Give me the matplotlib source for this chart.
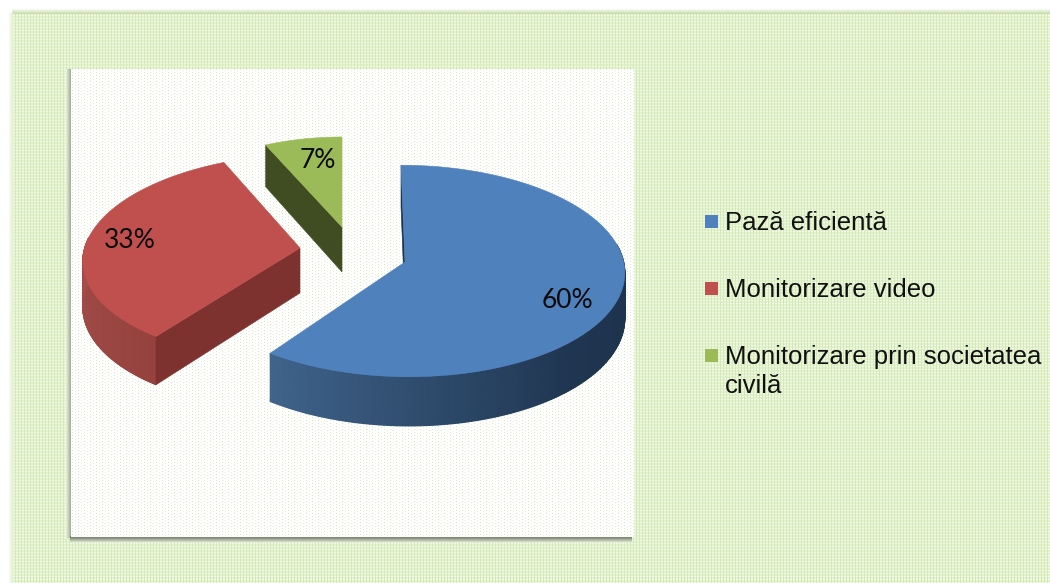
import numpy as np
import matplotlib
matplotlib.use("Agg")
import matplotlib.pyplot as plt
from matplotlib.patches import Polygon, Rectangle
from matplotlib.colors import to_rgb, LinearSegmentedColormap

categories = ["Pază eficientă", "Monitorizare video", "Monitorizare prin societatea\ncivilă"]
values = [60, 33, 7]
top_colors = ["#4F81BD", "#C0504D", "#9BBB59"]
face_colors = ["#1D324C", "#7E3230", "#404D22"]

W, H = 1050, 583
fig = plt.figure(figsize=(W / 100, H / 100), dpi=100, facecolor="white")
ax = fig.add_axes([0, 0, 1, 1])
ax.set_xlim(0, W)
ax.set_ylim(H, 0)
ax.axis("off")

# ---- textured backgrounds ----
def tile(x0, y0, x1, y1, fn, z):
    yy, xx = np.mgrid[y0:y1, x0:x1]
    ax.imshow(fn(xx, yy), extent=(x0, x1, y1, y0), zorder=z, interpolation="nearest", aspect="auto")

g_dark = np.array(to_rgb("#D3EAB6"))
g_mid = np.array(to_rgb("#E2F1CE"))
g_light = np.array(to_rgb("#F4FAEA"))

def outer(xx, yy):
    img = np.ones(xx.shape + (3,)) * g_mid
    img[(xx % 3 == 0)] = g_dark
    img[(yy % 3 == 0) & (xx % 3 != 0)] = g_light
    return img

def inner(xx, yy):
    img = np.ones(xx.shape + (3,))
    img[(xx % 6 == 0) & (yy % 3 == 0)] = np.array(to_rgb("#D6EABF"))
    img[(xx % 6 == 3) & (yy % 3 == 1)] = np.array(to_rgb("#E6F2D8"))
    return img

def gradient(x0, y0, x1, y1, axis, c0, c1, z):
    n = (y1 - y0) if axis == 0 else (x1 - x0)
    t = np.linspace(0, 1, n)
    col = np.outer(1 - t, to_rgb(c0)) + np.outer(t, to_rgb(c1))
    img = col[:, None, :] if axis == 0 else col[None, :, :]
    ax.imshow(img, extent=(x0, x1, y1, y0), zorder=z, interpolation="bilinear", aspect="auto")

tile(12, 13, W, H, outer, 1)
gradient(12, 8, W, 14, 0, "#FFFFFF", "#C9DDAE", 1.5)
gradient(8, 13, 13, H, 1, "#FFFFFF", "#E4EFD6", 1.5)
gradient(66, 69, 72, 538, 1, "#E2EDD3", "#98A190", 2)
gradient(70, 536, 632, 543, 0, "#6A7165", "#E2EDD3", 2)
tile(71, 69, 634, 537, inner, 3)

# ---- exploded 3D pie, projected from the values ----
K = 0.085
R, S, DEPTH = 222.0, 105.0, 45.0
apex = [(405, 262), (300, 248), (342, 227)]
fx = [0.985, 0.97, 0.87]
fy = [1.0, 0.97, 0.93]
skew = [-4.0, 10.0, 0.0]
label_xy = [(567, 300), (130, 240), (318, 160)]

def project(i, theta, r=1.0):
    u, v = r * np.sin(theta), r * np.cos(theta)
    w = 1 / (1 + K * v)
    x = apex[i][0] + fx[i] * R * u * w + skew[i] * v
    y = apex[i][1] - fy[i] * S * v * w
    return x, y, DEPTH * w

edges = np.concatenate([[0], np.cumsum(values)]) / sum(values) * 2 * np.pi

def radial_face(i, theta, color, z):
    x, y, d = project(i, theta)
    ax0, ay0, d0 = project(i, theta, 0.0)
    ax.add_patch(Polygon([(ax0, ay0), (x, y), (x, y + d), (ax0, ay0 + d0)], closed=True,
                         fc=color, ec=color, lw=0.4, zorder=z))

def curved_wall(i, t0, t1, stops, cols, z):
    ts = np.linspace(t0, t1, 160)
    x, y, d = project(i, ts)
    X = np.vstack([x, x])
    Y = np.vstack([y, y + d])
    deg = np.degrees(ts)
    lo, hi = min(stops), max(stops)
    cmap = LinearSegmentedColormap.from_list(
        "wall", [((s - lo) / (hi - lo), c) for s, c in zip(stops, cols)], N=512)
    C = np.vstack([deg, deg])
    ax.pcolormesh(X, Y, C, shading="gouraud", cmap=cmap, vmin=lo, vmax=hi, zorder=z)

def top_face(i, z):
    ts = np.linspace(edges[i], edges[i + 1], 200)
    x, y, _ = project(i, ts)
    ax0, ay0, _ = project(i, ts[0], 0.0)
    pts = np.column_stack([np.r_[ax0, x], np.r_[ay0, y]])
    ax.add_patch(Polygon(pts, closed=True, fc=top_colors[i], ec=top_colors[i], lw=0.4, zorder=z))

# blue
radial_face(0, edges[0], face_colors[0], 4)
curved_wall(0, np.radians(80), edges[1], [80, 135, 170, 216],
            ["#1D324C", "#1F3550", "#2C4868", "#40648C"], 4.1)
top_face(0, 5)
# red
curved_wall(1, edges[1], np.radians(276), [216, 276], ["#95423F", "#A64E4B"], 4.1)
radial_face(1, edges[1], face_colors[1], 4.2)
top_face(1, 5)
# green
radial_face(2, edges[2], face_colors[2], 4.2)
top_face(2, 5)

for v, (x, y) in zip(values, label_xy):
    ax.text(x, y, f"{v}%", ha="center", va="center", fontsize=19, family="Lato",
            color="#0A0A0A", zorder=6)

# ---- legend ----
legend_y = [221, 288, 355]
for cat, col, y in zip(categories, top_colors, legend_y):
    ax.add_patch(Rectangle((705, y - 6.5), 13, 13, fc=col, ec="none", zorder=6))
    ax.text(725, y - 10, cat, ha="left", va="top", fontsize=18.55,
            family="Liberation Sans", color="#101010", linespacing=1.26, zorder=6)

ax.set_xlim(0, W)
ax.set_ylim(H, 0)
fig.savefig("out.png", dpi=100, facecolor="white")
